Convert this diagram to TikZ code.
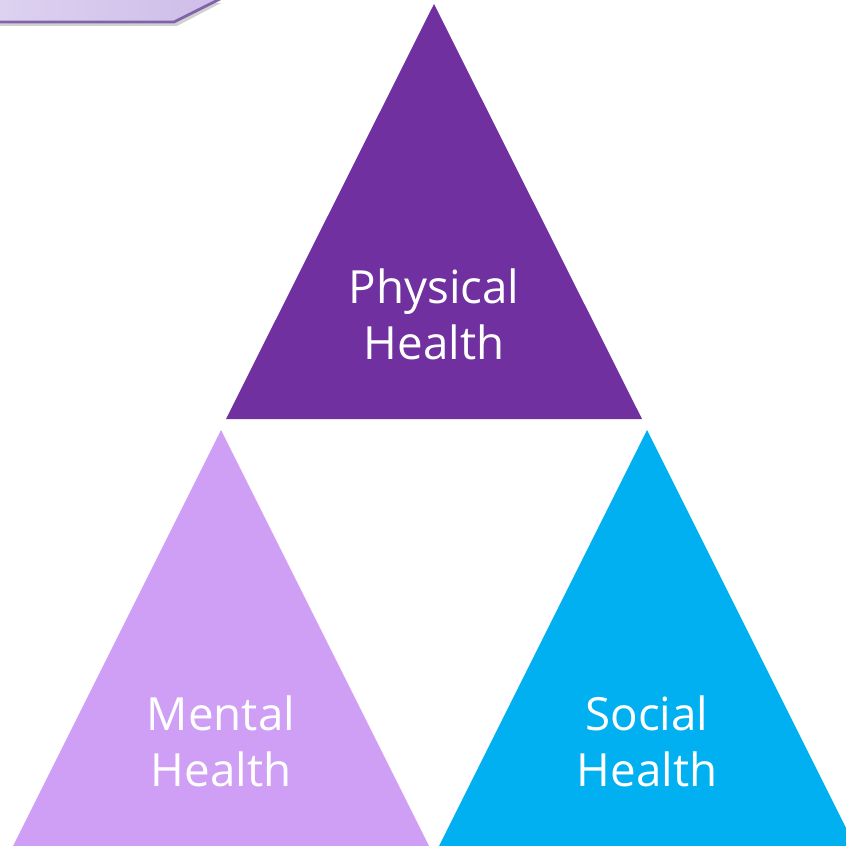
\documentclass[tikz,border=0pt]{standalone}
\usepackage{fontspec}
\setmainfont{Open Sans}
\definecolor{physcol}{RGB}{112,48,160}
\definecolor{mentcol}{RGB}{207,159,245}
\definecolor{soccol}{RGB}{0,176,240}
\definecolor{tablight}{RGB}{221,210,240}
\definecolor{tabdark}{RGB}{205,188,232}
\definecolor{tabedge}{RGB}{128,100,170}
\tikzset{
  lbl/.style={text=white,align=center,font=\fontsize{13pt}{16pt}\selectfont}
}
\begin{document}
\begin{tikzpicture}[x=0.01cm,y=-0.01cm]
  \useasboundingbox (0,0) rectangle (846,846);
  % title tab in the corner
  \fill[black,opacity=0.18] (-5,3) -- (221,3) -- (177,26) -- (-5,26) -- cycle;
  \shade[left color=tablight,right color=tabdark] (-5,-5) -- (228,-5) -- (174,22) -- (-5,22) -- cycle;
  \draw[tabedge,line width=0.8pt] (-5,22) -- (174,22) -- (222,-2);
  % Physical health: top triangle
  \fill[physcol] (434,4) -- (642,419) -- (226,419) -- cycle;
  \node[lbl] (phys) at (434,314) {Physical\\Health};
  % Mental health: bottom left
  \fill[mentcol] (221,430) -- (429,846) -- (13,846) -- cycle;
  \node[lbl] (ment) at (221,741) {Mental\\Health};
  % Social health: bottom right
  \fill[soccol] (647,430) -- (855,846) -- (439,846) -- cycle;
  \node[lbl] (soc) at (647,741) {Social\\Health};
\end{tikzpicture}
\end{document}
